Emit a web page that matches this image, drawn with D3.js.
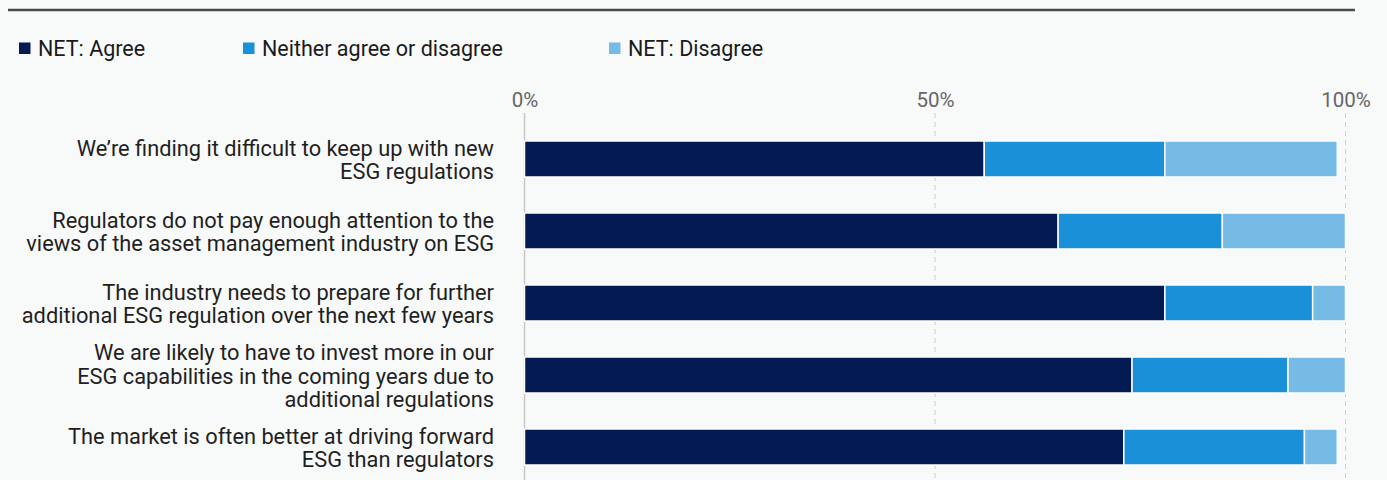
<!DOCTYPE html>
<html>
<head>
<meta charset="utf-8">
<script src="https://cdn.jsdelivr.net/npm/d3@7"></script>
<style>
  html, body { margin: 0; padding: 0; background: #f8f9f9; }
  svg { display: block; font-family: Roboto, "Noto Sans", sans-serif; }
</style>
</head>
<body>
<svg id="chart" width="1387" height="480"></svg>
<script>
// Survey statements (line breaks mark how each label wraps)
const categories = [
  "We\u2019re finding it difficult to keep up with new\nESG regulations",
  "Regulators do not pay enough attention to the\nviews of the asset management industry on ESG",
  "The industry needs to prepare for further\nadditional ESG regulation over the next few years",
  "We are likely to have to invest more in our\nESG capabilities in the coming years due to\nadditional regulations",
  "The market is often better at driving forward\nESG than regulators"
];
const seriesNames = ["NET: Agree", "Neither agree or disagree", "NET: Disagree"];
const agree    = [56, 65, 78, 74, 73];
const neither  = [22, 20, 18, 19, 22];
const disagree = [21, 15, 4, 7, 4];
const tickValues = [0, 50, 100];
const tickLabels = ["0%", "50%", "100%"];
const colors = ["#041a52", "#1a90d8", "#76bae6"];

const svg = d3.select("#chart");
const W = 1387, H = 480;

// top rule
svg.append("line")
  .attr("x1", 8).attr("x2", 1355).attr("y1", 10).attr("y2", 10)
  .attr("stroke", "#4a4a4a").attr("stroke-width", 2.5);

// legend
const legendX = [19, 243, 609];
const legend = svg.append("g").selectAll("g").data(seriesNames).join("g")
  .attr("transform", (d, i) => `translate(${legendX[i]},48)`);
legend.append("rect").attr("x", 0).attr("y", -5.5).attr("width", 11.5).attr("height", 11.5)
  .attr("fill", (d, i) => colors[i]);
legend.append("text").attr("x", 19).attr("y", 0).attr("dy", "0.35em")
  .attr("font-size", 21.5).attr("fill", "#1a1a1a").text(d => d);

// scales
const x = d3.scaleLinear().domain([0, 100]).range([524.5, 1345.5]);
const y = d3.scaleBand().domain(d3.range(categories.length)).range([123, 483])
  .paddingInner(0.5).paddingOuter(0.25);

// gridlines
const grid = svg.append("g");
grid.selectAll("line").data(tickValues).join("line")
  .attr("x1", d => x(d)).attr("x2", d => x(d))
  .attr("y1", 113).attr("y2", H)
  .attr("stroke", d => d === 0 ? "#c8c8c8" : "#cfcfcf")
  .attr("stroke-width", d => d === 0 ? 1.5 : 1)
  .attr("stroke-dasharray", d => d === 0 ? null : "5,4");

// top axis tick labels
const xAxis = d3.axisTop(x).tickValues(tickValues)
  .tickFormat((d, i) => tickLabels[i]).tickSize(0).tickPadding(0);
const axG = svg.append("g").attr("transform", "translate(0,100)").call(xAxis);
axG.select(".domain").remove();
axG.selectAll("text").attr("font-size", 20.5).attr("fill", "#666")
  .attr("font-family", "Roboto, sans-serif").attr("dy", "0.35em");

// stacked bars
const rows = categories.map((c, i) => ({ i, agree: agree[i], neither: neither[i], disagree: disagree[i] }));
const stack = d3.stack().keys(["agree", "neither", "disagree"])(rows);
svg.append("g").selectAll("g").data(stack).join("g")
  .attr("fill", (d, k) => colors[k])
  .selectAll("rect").data(d => d).join("rect")
  .attr("x", d => x(d[0]))
  .attr("y", d => y(d.data.i))
  .attr("width", d => x(d[1]) - x(d[0]))
  .attr("height", y.bandwidth())
  .attr("stroke", "#ffffff").attr("stroke-width", 1.5);

// category labels, right aligned
const lineH = 23.5;
const labels = svg.append("g").selectAll("text").data(categories).join("text")
  .attr("text-anchor", "end").attr("font-size", 21.8).attr("fill", "#1f1f1f")
  .attr("transform", (d, i) => `translate(494,${y(i) + y.bandwidth() / 2 + 1})`);
labels.each(function (d) {
  const lines = d.split("\n");
  const t = d3.select(this);
  lines.forEach((ln, j) => {
    t.append("tspan").attr("x", 0)
      .attr("y", (j - (lines.length - 1) / 2) * lineH)
      .attr("dy", "0.35em").text(ln);
  });
});
</script>
</body>
</html>
